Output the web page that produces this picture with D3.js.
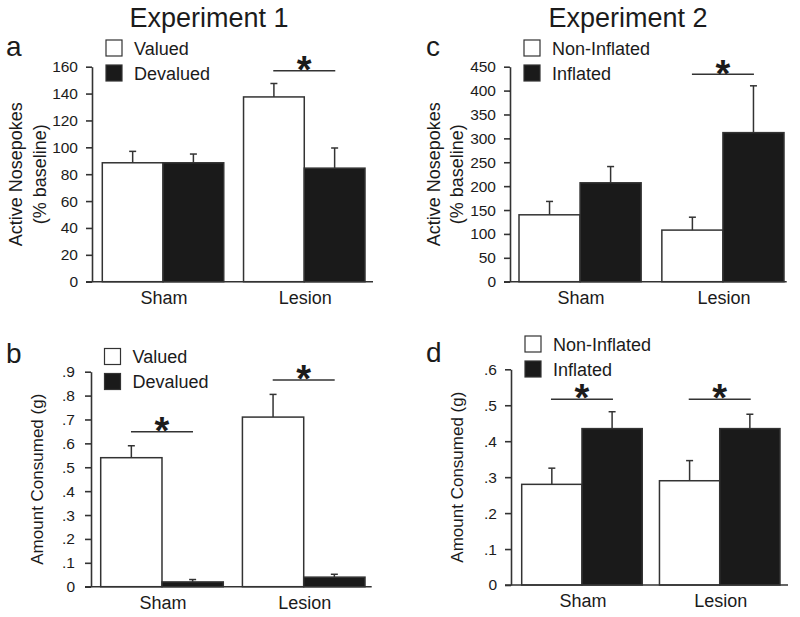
<!DOCTYPE html>
<html>
<head>
<meta charset="utf-8">
<script src="https://cdn.jsdelivr.net/npm/d3@7"></script>
<style>
  html, body { margin: 0; padding: 0; background: #fff; }
  svg { display: block; font-family: "Liberation Sans", Arial, Helvetica, sans-serif; }
</style>
</head>
<body>
<svg id="chart" width="800" height="617"></svg>
<script>
// ---------------- DATA ----------------
const categories = ["Sham", "Lesion"];
const exp1Series = ["Valued", "Devalued"];
const exp2Series = ["Non-Inflated", "Inflated"];
const titles = ["Experiment 1", "Experiment 2"];

// means[category][series], sem[category][series]
const meansA = [[88.5, 88.5], [137.5, 84.5]];
const semA   = [[8.5, 6.5], [10, 15]];
const meansB = [[0.54, 0.02], [0.71, 0.04]];
const semB   = [[0.05, 0.01], [0.095, 0.012]];
const meansC = [[140, 207], [108, 312]];
const semC   = [[28, 34], [27, 98]];
const meansD = [[0.28, 0.435], [0.29, 0.435]];
const semD   = [[0.045, 0.047], [0.056, 0.04]];

const ticksA = [0, 20, 40, 60, 80, 100, 120, 140, 160];
const tickLabelsA = ["0", "20", "40", "60", "80", "100", "120", "140", "160"];
const ticksB = [0, 0.1, 0.2, 0.3, 0.4, 0.5, 0.6, 0.7, 0.8, 0.9];
const tickLabelsB = ["0", ".1", ".2", ".3", ".4", ".5", ".6", ".7", ".8", ".9"];
const ticksC = [0, 50, 100, 150, 200, 250, 300, 350, 400, 450];
const tickLabelsC = ["0", "50", "100", "150", "200", "250", "300", "350", "400", "450"];
const ticksD = [0, 0.1, 0.2, 0.3, 0.4, 0.5, 0.6];
const tickLabelsD = ["0", ".1", ".2", ".3", ".4", ".5", ".6"];

// significance bars: category and level (in data units)
const sigA = [{ cat: "Lesion", level: 157 }];
const sigB = [{ cat: "Sham", level: 0.649 }, { cat: "Lesion", level: 0.865 }];
const sigC = [{ cat: "Lesion", level: 434 }];
const sigD = [{ cat: "Sham", level: 0.517 }, { cat: "Lesion", level: 0.517 }];

const yLabelA = ["Active Nosepokes", "(% baseline)"];
const yLabelB = ["Amount Consumed (g)"];
const yLabelC = ["Active Nosepokes", "(% baseline)"];
const yLabelD = ["Amount Consumed (g)"];

// ---------------- STYLE ----------------
const INK = "#1b1b1b";
const LINE = "#333";
const BLACK = "#1a1a1a";
const svg = d3.select("#chart");

function drawPanel(cfg) {
  const g = svg.append("g");
  const y = d3.scaleLinear().domain(cfg.domain).range([cfg.y0, cfg.yTop]);
  const x = d3.scaleBand().domain(categories).range([cfg.barsLeft, cfg.barsRight])
    .paddingInner(cfg.padInner).paddingOuter(0);
  const xs = d3.scaleBand().domain(cfg.series).range([0, x.bandwidth()]).padding(0);
  const color = d3.scaleOrdinal().domain(cfg.series).range(["#ffffff", BLACK]);

  // y axis
  const axis = d3.axisLeft(y).tickValues(cfg.ticks)
    .tickFormat((d, i) => cfg.tickLabels[i])
    .tickSize(6).tickSizeOuter(0).tickPadding(cfg.tickPad);
  const ag = g.append("g").attr("transform", `translate(${cfg.axisX},0)`).call(axis);
  ag.select(".domain").attr("stroke", LINE).attr("stroke-width", 1.6);
  ag.selectAll(".tick line").attr("stroke", LINE).attr("stroke-width", 1.6);
  ag.selectAll(".tick text").attr("fill", INK).attr("font-size", 15.5)
    .attr("font-family", '"Liberation Sans", Arial, Helvetica, sans-serif');

  // bars
  const rows = [];
  categories.forEach((c, ci) => cfg.series.forEach((s, si) => {
    rows.push({ cat: c, ser: s, mean: cfg.means[ci][si], sem: cfg.sem[ci][si] });
  }));
  const bg = g.append("g");
  bg.selectAll("rect").data(rows).join("rect")
    .attr("x", d => x(d.cat) + xs(d.ser))
    .attr("y", d => y(d.mean))
    .attr("width", xs.bandwidth())
    .attr("height", d => y(0) - y(d.mean))
    .attr("fill", d => color(d.ser))
    .attr("stroke", LINE).attr("stroke-width", 1.5);

  // error bars (upward only)
  const eg = g.append("g").attr("stroke", LINE).attr("stroke-width", 1.5);
  eg.selectAll("line.v").data(rows).join("line").attr("class", "v")
    .attr("x1", d => x(d.cat) + xs(d.ser) + xs.bandwidth() / 2)
    .attr("x2", d => x(d.cat) + xs(d.ser) + xs.bandwidth() / 2)
    .attr("y1", d => y(d.mean))
    .attr("y2", d => y(d.mean + d.sem));
  eg.selectAll("line.c").data(rows).join("line").attr("class", "c")
    .attr("x1", d => x(d.cat) + xs(d.ser) + xs.bandwidth() / 2 - 3.5)
    .attr("x2", d => x(d.cat) + xs(d.ser) + xs.bandwidth() / 2 + 3.5)
    .attr("y1", d => y(d.mean + d.sem))
    .attr("y2", d => y(d.mean + d.sem));

  // x baseline
  g.append("line").attr("x1", cfg.axisX - 6).attr("x2", cfg.xRight)
    .attr("y1", y(0)).attr("y2", y(0))
    .attr("stroke", LINE).attr("stroke-width", 1.6);

  // category labels
  g.selectAll("text.cat").data(categories).join("text").attr("class", "cat")
    .attr("x", d => x(d) + x.bandwidth() / 2 + 1)
    .attr("y", y(0) + 22)
    .attr("text-anchor", "middle").attr("font-size", 18).attr("fill", INK)
    .text(d => d);

  // significance
  cfg.sig.forEach(s => {
    const cx = x(s.cat) + x.bandwidth() / 2;
    const ly = y(s.level);
    g.append("line").attr("x1", cx - 31).attr("x2", cx + 31)
      .attr("y1", ly).attr("y2", ly)
      .attr("stroke", LINE).attr("stroke-width", 1.5);
    g.append("text").attr("x", cx).attr("y", ly - 9 + 0.56 * 38)
      .attr("text-anchor", "middle").attr("font-size", 38).attr("font-weight", "bold")
      .attr("fill", INK).text("*");
  });

  // y label
  const yc = (cfg.y0 + cfg.yTop) / 2;
  cfg.yLabel.forEach((t, i) => {
    const bx = cfg.axisX + cfg.yLabelOffsets[i];
    g.append("text").attr("transform", `translate(${bx},${yc}) rotate(-90)`)
      .attr("text-anchor", "middle").attr("font-size", cfg.yLabelSize).attr("fill", INK)
      .text(t);
  });

  // legend
  cfg.series.forEach((s, i) => {
    const ly = cfg.legendY + i * 25;
    g.append("rect").attr("x", cfg.legendX).attr("y", ly)
      .attr("width", 16).attr("height", 16)
      .attr("fill", color(s)).attr("stroke", LINE).attr("stroke-width", 1.2);
    g.append("text").attr("x", cfg.legendX + 28).attr("y", ly + 14.5)
      .attr("font-size", 18).attr("fill", INK).text(s);
  });

  // panel letter
  g.append("text").attr("x", cfg.letterX).attr("y", cfg.letterY)
    .attr("font-size", 28).attr("fill", INK).text(cfg.letter);
}

// titles
svg.append("text").attr("x", 209).attr("y", 27).attr("text-anchor", "middle")
  .attr("font-size", 27).attr("fill", INK).text(titles[0]);
svg.append("text").attr("x", 628).attr("y", 27).attr("text-anchor", "middle")
  .attr("font-size", 27).attr("fill", INK).text(titles[1]);

drawPanel({ letter: "a", letterX: 6, letterY: 56, series: exp1Series,
  means: meansA, sem: semA, domain: [0, 160], ticks: ticksA, tickLabels: tickLabelsA,
  axisX: 92, y0: 281.7, yTop: 66.7, barsLeft: 102.3, barsRight: 365, padInner: 0.14, xRight: 373,
  tickPad: 8, sig: sigA, yLabel: yLabelA, yLabelOffsets: [-70.5, -46], yLabelSize: 18,
  legendX: 106, legendY: 40 });

drawPanel({ letter: "b", letterX: 6, letterY: 363, series: exp1Series,
  means: meansB, sem: semB, domain: [0, 0.9], ticks: ticksB, tickLabels: tickLabelsB,
  axisX: 91, y0: 586.7, yTop: 371.7, barsLeft: 100.7, barsRight: 365, padInner: 0.135, xRight: 371.7,
  tickPad: 10, sig: sigB, yLabel: yLabelB, yLabelOffsets: [-48], yLabelSize: 17,
  legendX: 104.5, legendY: 348.5 });

drawPanel({ letter: "c", letterX: 426, letterY: 56, series: exp2Series,
  means: meansC, sem: semC, domain: [0, 450], ticks: ticksC, tickLabels: tickLabelsC,
  axisX: 510, y0: 281.7, yTop: 66.7, barsLeft: 519, barsRight: 784, padInner: 0.145, xRight: 786.7,
  tickPad: 8, sig: sigC, yLabel: yLabelC, yLabelOffsets: [-70, -47], yLabelSize: 18,
  legendX: 524, legendY: 40 });

drawPanel({ letter: "d", letterX: 426, letterY: 362, series: exp2Series,
  means: meansD, sem: semD, domain: [0, 0.6], ticks: ticksD, tickLabels: tickLabelsD,
  axisX: 511, y0: 585, yTop: 369.3, barsLeft: 521.7, barsRight: 780, padInner: 0.125, xRight: 788,
  tickPad: 8, sig: sigD, yLabel: yLabelD, yLabelOffsets: [-48], yLabelSize: 17,
  legendX: 525, legendY: 336 });
</script>
</body>
</html>
